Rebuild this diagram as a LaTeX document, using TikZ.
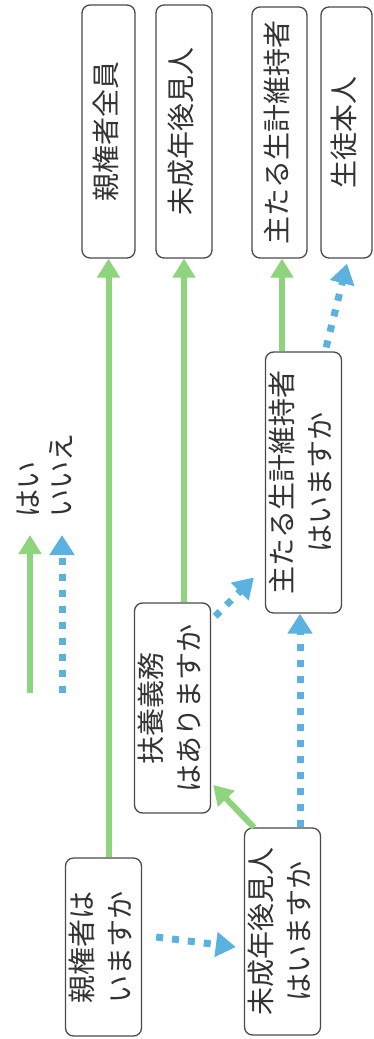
\documentclass[tikz,border=0pt]{standalone}
\usepackage{fontspec}
\setmainfont{Noto Sans CJK JP}
\usepackage{graphicx}
\usetikzlibrary{arrows.meta,calc}
\definecolor{ygreen}{HTML}{8DD47C}
\definecolor{nblue}{HTML}{5BB2E0}
\definecolor{boxgray}{HTML}{4A4A4A}
\definecolor{txtgray}{HTML}{333333}
\newcommand{\vt}[1]{\rotatebox{90}{\begin{tabular}{@{}c@{}}#1\end{tabular}}}
\begin{document}
\begin{tikzpicture}[x=1pt,y=-1pt,
  box/.style={draw=boxgray, line width=1.3pt, rounded corners=8pt, inner sep=0pt, fill=white,
    text=txtgray, font=\fontsize{28}{38}\selectfont},
  yes/.style={draw=ygreen, line width=6pt, -{Triangle[width=22pt,length=19pt,fill=ygreen]}},
  no/.style={draw=nblue, line width=7pt, dash pattern=on 7pt off 9pt, -{Triangle[width=24pt,length=20pt,fill=nblue]}},
  lbl/.style={text=txtgray, font=\fontsize{28}{38}\selectfont, rotate=90, anchor=west, inner sep=0pt}]
\useasboundingbox (0,0) rectangle (373,1039);
\fill[white] (0,0) rectangle (373,1039);
% result boxes
\node[box, minimum width=53pt, minimum height=253pt] (n1) at (108.5,131.5) {\vt{親権者全員}};
\node[box, minimum width=56pt, minimum height=253pt] (n2) at (184,131.5) {\vt{未成年後見人}};
\node[box, minimum width=55pt, minimum height=251pt] (n3) at (279.5,132.5) {\vt{主たる生計維持者}};
\node[box, minimum width=51pt, minimum height=251pt] (n4) at (346.5,132.5) {\vt{生徒本人}};
% question boxes
\node[box, minimum width=69pt, minimum height=178pt] (q1) at (103.5,947) {\vt{親権者は\\いますか}};
\node[box, minimum width=69pt, minimum height=207pt] (q2) at (282.5,931.5) {\vt{未成年後見人\\はいますか}};
\node[box, minimum width=71pt, minimum height=210pt] (q3) at (172.5,708) {\vt{扶養義務\\はありますか}};
\node[box, minimum width=69pt, minimum height=261pt] (q4) at (303.5,482.5) {\vt{主たる生計維持者\\はいますか}};
% connectors
\draw[yes] (q1.north -| n1.south) -- (n1.south);
\draw[no] ($(q1.east)+(14,-10)$) -- ($(q2.west)+(-8,15.5)$);
\draw[yes] ($(q2.north west)+(10,0)$) -- ($(q3.east)+(2,77)$);
\draw[no] ($(q2.north)+(17.5,0)$) -- ($(q4.south)+(-3.5,0)$);
\draw[yes] (q3.north -| n2.south) -- (n2.south);
\draw[no] ($(q3.north east)+(4,14)$) -- ($(q4.west)+(-11,95)$);
\draw[yes] ($(q4.north)+(-21.5,0)$) -- ($(n3.south)+(2.5,0)$);
\draw[no] ($(q4.north east)+(-16,-4)$) -- ($(n4.south)+(0.5,5)$);
% legend
\coordinate (lg1a) at (30,693);
\coordinate (lg1b) at (30,535);
\coordinate (lg2a) at (62,693);
\coordinate (lg2b) at (62,535);
\draw[yes] (lg1a) -- (lg1b);
\draw[no] (lg2a) -- (lg2b);
\node[lbl] (lyes) at (28,518) {はい};
\node[lbl] (lno) at (61,518) {いいえ};
\end{tikzpicture}
\end{document}
